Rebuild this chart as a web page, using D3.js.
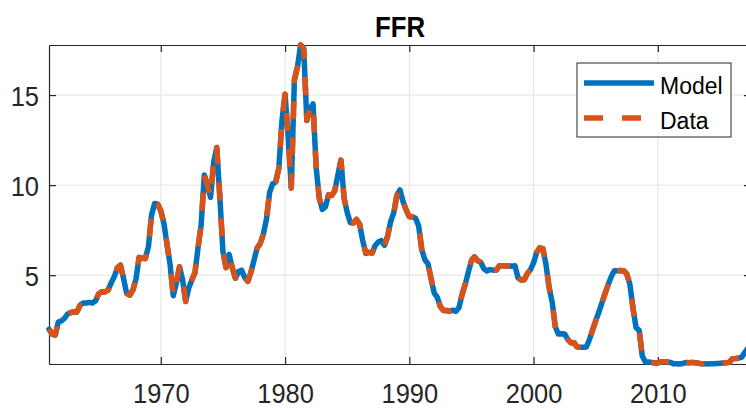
<!DOCTYPE html>
<html>
<head>
<meta charset="utf-8">
<script src="https://cdn.jsdelivr.net/npm/d3@7"></script>
<style>
  body { margin: 0; background: #fff; }
  svg { display: block; font-family: "Liberation Sans", Arial, Helvetica, sans-serif; }
</style>
</head>
<body>
<div id="chart"></div>
<script>
// quarterly effective fed funds rate, 1961Q1 .. 2017Q3
var startYear = 1961;
var dataFFR = [
  2.00, 1.73, 1.68, 2.40,  2.46, 2.61, 2.85, 2.92,  2.97, 2.96, 3.33, 3.45,
  3.46, 3.49, 3.46, 3.58,  3.97, 4.08, 4.07, 4.17,  4.56, 4.91, 5.41, 5.56,
  4.82, 3.99, 3.89, 4.17,  4.79, 5.98, 5.94, 5.92,  6.57, 8.33, 8.98, 8.94,
  8.57, 7.88, 6.70, 5.57,  3.86, 4.56, 5.47, 4.75,  3.54, 4.30, 4.74, 5.14,
  6.54, 7.82, 10.56, 10.00, 9.32, 11.25, 12.09, 9.35, 6.30, 5.42, 6.16, 5.41,
  4.83, 5.20, 5.28, 4.87,  4.66, 5.16, 5.82, 6.51,  6.76, 7.28, 8.10, 9.58,
  10.07, 10.18, 10.95, 13.58, 15.05, 12.69, 9.84, 15.85, 16.57, 17.78, 17.58, 13.59,
  14.23, 14.51, 11.01, 9.29, 8.65, 8.80, 9.46, 9.43,  9.69, 10.56, 11.39, 9.27,
  8.48, 7.92, 7.90, 8.10,  7.83, 6.92, 6.21, 6.27,  6.22, 6.65, 6.84, 6.92,
  6.66, 7.16, 7.98, 8.47,  9.44, 9.73, 9.08, 8.61,  8.25, 8.24, 8.16, 7.74,
  6.43, 5.86, 5.64, 4.82,  4.02, 3.77, 3.26, 3.04,  3.04, 3.00, 3.06, 2.99,
  3.21, 3.94, 4.49, 5.17,  5.81, 6.02, 5.80, 5.72,  5.36, 5.24, 5.31, 5.28,
  5.28, 5.52, 5.53, 5.51,  5.52, 5.50, 5.53, 4.86,  4.73, 4.75, 5.09, 5.31,
  5.68, 6.27, 6.52, 6.47,  5.59, 4.33, 3.50, 2.13,  1.73, 1.75, 1.74, 1.44,
  1.25, 1.25, 1.02, 1.00,  1.00, 1.01, 1.43, 1.95,  2.47, 2.94, 3.46, 3.98,
  4.46, 4.91, 5.25, 5.25,  5.26, 5.25, 5.07, 4.50,  3.18, 2.09, 1.94, 0.51,
  0.18, 0.18, 0.16, 0.12,  0.13, 0.19, 0.19, 0.19,  0.16, 0.09, 0.08, 0.07,
  0.10, 0.15, 0.14, 0.16,  0.14, 0.12, 0.08, 0.09,  0.07, 0.09, 0.09, 0.10,
  0.11, 0.13, 0.14, 0.16,  0.36, 0.37, 0.39, 0.45,  0.70, 0.95, 1.15
];
// model fit lies on top of the data everywhere in the picture
var modelFFR = dataFFR.slice();

var xTicks = [1970, 1980, 1990, 2000, 2010];
var yTicks = [5, 10, 15];
var seriesNames = ["Model", "Data"];

var margin = {top: 45, left: 49},
    width = 702,
    height = 319;

var blue = "#0072bd", orange = "#d95319", axisCol = "#262626", gridCol = "#e3e3e3";
var squeeze = 0.91; // tick labels in the picture are a bit narrow

var svg = d3.select("#chart").append("svg")
    .attr("width", 746)
    .attr("height", 409);

var g = svg.append("g")
    .attr("transform", "translate(" + margin.left + "," + margin.top + ")");

var x = d3.scaleLinear()
    .domain([startYear, startYear + (dataFFR.length - 1) / 4])
    .range([0, width]);

var y = d3.scaleLinear()
    .domain([d3.min(dataFFR), d3.max(dataFFR)])
    .range([height, 0]);

// grid
g.selectAll(".vgrid").data(xTicks).enter().append("line")
    .attr("x1", function(d) { return x(d); })
    .attr("x2", function(d) { return x(d); })
    .attr("y1", 0).attr("y2", height)
    .attr("stroke", gridCol).attr("stroke-width", 1);

g.selectAll(".hgrid").data(yTicks).enter().append("line")
    .attr("x1", 0).attr("x2", width)
    .attr("y1", function(d) { return y(d); })
    .attr("y2", function(d) { return y(d); })
    .attr("stroke", gridCol).attr("stroke-width", 1);

// axes, matlab style ticks pointing inward, box on
function styleAxis(sel) {
    sel.select(".domain").attr("stroke", axisCol).attr("stroke-width", 1.2);
    sel.selectAll(".tick line").attr("stroke", axisCol).attr("stroke-width", 1.2);
    sel.selectAll("text")
        .attr("fill", axisCol)
        .style("font-size", "28px")
        .style("font-family", "Liberation Sans, Arial, sans-serif");
}

g.append("g")
    .attr("transform", "translate(0," + height + ")")
    .call(d3.axisBottom(x).tickValues(xTicks).tickFormat(d3.format("d"))
        .tickSizeInner(-7).tickSizeOuter(0).tickPadding(19))
    .call(styleAxis)
    .selectAll(".tick text")
    .attr("transform", "scale(" + squeeze + ",1)");

g.append("g")
    .call(d3.axisTop(x).tickValues(xTicks).tickFormat("")
        .tickSizeInner(-7).tickSizeOuter(0))
    .call(styleAxis);

g.append("g")
    .call(d3.axisLeft(y).tickValues(yTicks).tickFormat(d3.format("d"))
        .tickSizeInner(-7).tickSizeOuter(0))
    .call(styleAxis)
    .selectAll(".tick text")
    .attr("x", -10 / squeeze)
    .attr("dy", "0.36em")
    .attr("transform", "scale(" + squeeze + ",1)");

g.append("g")
    .attr("transform", "translate(" + width + ",0)")
    .call(d3.axisRight(y).tickValues(yTicks).tickFormat("")
        .tickSizeInner(-7).tickSizeOuter(0))
    .call(styleAxis);

// lines
var line = d3.line()
    .x(function(d, i) { return x(startYear + i / 4); })
    .y(function(d) { return y(d); });

g.append("path")
    .datum(modelFFR)
    .attr("d", line)
    .attr("fill", "none")
    .attr("stroke", blue)
    .attr("stroke-width", 5.5)
    .attr("stroke-linejoin", "round")
    .attr("stroke-linecap", "round");

g.append("path")
    .datum(dataFFR)
    .attr("d", line)
    .attr("fill", "none")
    .attr("stroke", orange)
    .attr("stroke-width", 5.5)
    .attr("stroke-dasharray", "18,18")
    .attr("stroke-linejoin", "round");

// title
svg.append("text")
    .attr("transform", "translate(" + (margin.left + width / 2) + ",37) scale(0.86,1)")
    .attr("text-anchor", "middle")
    .style("font-size", "30px")
    .style("font-weight", "bold")
    .attr("fill", "#000")
    .text("FFR");

// legend
var leg = svg.append("g").attr("transform", "translate(577,63)");
leg.append("rect")
    .attr("width", 154).attr("height", 74)
    .attr("fill", "#fff")
    .attr("stroke", axisCol).attr("stroke-width", 1);

var legItems = leg.selectAll(".item").data(seriesNames).enter().append("g")
    .attr("transform", function(d, i) { return "translate(0," + (20 + i * 35) + ")"; });

legItems.append("line")
    .attr("x1", 7).attr("x2", 77)
    .attr("stroke", function(d, i) { return i == 0 ? blue : orange; })
    .attr("stroke-width", 5.5)
    .attr("stroke-dasharray", function(d, i) { return i == 0 ? null : "19,19"; });

legItems.append("text")
    .attr("x", 83)
    .attr("y", 11)
    .style("font-size", "23px")
    .attr("fill", "#000")
    .text(function(d) { return d; });
</script>
</body>
</html>
